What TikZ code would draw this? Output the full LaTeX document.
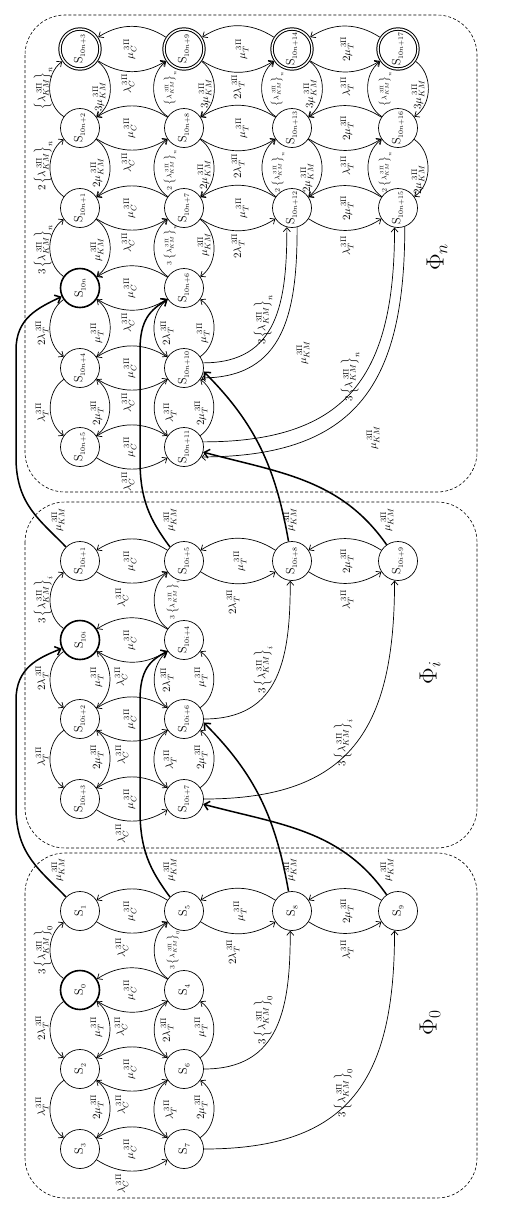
\documentclass[tikz,border=0pt]{standalone}
\usetikzlibrary{arrows.meta}
\newcommand{\stname}[1]{\rotatebox{90}{\fontsize{12}{14}\selectfont S\kern0.2pt\raisebox{-0.55ex}{\fontsize{7.5}{9}\selectfont$#1$}}}
\newcommand{\sza}[1]{#1}
\newcommand{\szb}[1]{10i\ifnum#1>0 {+}#1\fi}
\newcommand{\lkm}[2]{$#1\left\{\lambda_{KM}^{\;3\Pi}\right\}_{#2}$}
\newcommand{\mkm}[1]{$#1\mu_{KM}^{\;3\Pi}$}

\newcommand{\lowpanel}[4]{%
\begin{scope}[yshift=#4pt]
 \node[state]  (#1-1) at (80,-911)  {\stname{#2{1}}};
 \node[state]  (#1-5) at (184,-911) {\stname{#2{5}}};
 \node[state]  (#1-8) at (292,-911) {\stname{#2{8}}};
 \node[state]  (#1-9) at (398,-911) {\stname{#2{9}}};
 \node[bstate] (#1-0) at (80,-990)  {\stname{#2{0}}};
 \node[state]  (#1-4) at (184,-990) {\stname{#2{4}}};
 \node[state]  (#1-2) at (80,-1069) {\stname{#2{2}}};
 \node[state]  (#1-6) at (184,-1069){\stname{#2{6}}};
 \node[state]  (#1-3) at (80,-1149) {\stname{#2{3}}};
 \node[state]  (#1-7) at (184,-1149){\stname{#2{7}}};
 \foreach \u/\v in {5/1,1/5,4/0,0/4,6/2,2/6,7/3,3/7,8/5,5/8,9/8,8/9}
   \draw[arr] (#1-\u) to[bend right=33] (#1-\v);
 \foreach \u/\v in {0/2,2/0,2/3,3/2,4/6,6/4,6/7,7/6}
   \draw[arr] (#1-\u) to[bend right=55] (#1-\v);
 \foreach \u/\v in {0/1,4/5}
   \draw[arr] (#1-\u) to[bend left=55] (#1-\v);
 \draw[arr] (#1-6.east) to[out=0,in=-90,looseness=1.2] (#1-8.265);
 \draw[arr] (#1-7.east) to[out=0,in=-90,looseness=1.3] (#1-9.260);
 \node[lbl] (#1-l1) at (130,-911) {$\mu_{C}^{\;3\Pi}$};
 \node[lbl] (#1-l2) at (122,-948) {$\lambda_{C}^{\;3\Pi}$};
 \node[lbl] (#1-l3) at (130,-990) {$\mu_{C}^{\;3\Pi}$};
 \node[lbl] (#1-l4) at (121,-1027) {$\lambda_{C}^{\;3\Pi}$};
 \node[lbl] (#1-l5) at (130,-1069) {$\mu_{C}^{\;3\Pi}$};
 \node[lbl] (#1-l6) at (122,-1105) {$\lambda_{C}^{\;3\Pi}$};
 \node[lbl] (#1-l7) at (130,-1149) {$\mu_{C}^{\;3\Pi}$};
 \node[lbl] (#1-l8) at (122,-1184) {$\lambda_{C}^{\;3\Pi}$};
 \node[lbl] (#1-l9) at (240,-911) {$\mu_{T}^{\;3\Pi}$};
 \node[lbl] (#1-l10) at (233,-952) {$2\lambda_{T}^{\;3\Pi}$};
 \node[lbl] (#1-l11) at (347,-911) {$2\mu_{T}^{\;3\Pi}$};
 \node[lbl] (#1-l12) at (347,-950) {$\lambda_{T}^{\;3\Pi}$};
 \node[lbl] (#1-l13) at (43,-950) {\lkm{3}{#3}};
 \node[lbl] (#1-l14) at (42,-1028) {$2\lambda_{T}^{\;3\Pi}$};
 \node[lbl] (#1-l15) at (97,-1027) {$\mu_{T}^{\;3\Pi}$};
 \node[lbl] (#1-l16) at (42,-1107) {$\lambda_{T}^{\;3\Pi}$};
 \node[lbl] (#1-l17) at (97,-1107) {$2\mu_{T}^{\;3\Pi}$};
 \node[slbl] (#1-l18) at (173,-950) {\lkm{3}{#3}};
 \node[lbl] (#1-l19) at (167,-1030) {$2\lambda_{T}^{\;3\Pi}$};
 \node[lbl] (#1-l20) at (201,-1027) {$\mu_{T}^{\;3\Pi}$};
 \node[lbl] (#1-l21) at (170,-1110) {$\lambda_{T}^{\;3\Pi}$};
 \node[lbl] (#1-l22) at (201,-1107) {$2\mu_{T}^{\;3\Pi}$};
 \node[lbl] (#1-l23) at (263,-1020) {\lkm{3}{#3}};
 \node[lbl] (#1-l24) at (343,-1093) {\lkm{3}{#3}};
 \node[philbl] (#1-phi) at (430,-1023) {$\Phi_{#3}$};
\end{scope}}

\newcommand{\crossarr}[6]{%
\begin{scope}[yshift=#6pt]
 \draw[tarr] (#1-1.135) .. controls (40,-870) and (17,-855) .. (16,-810) -- (16,-700) .. controls (16,-668) and (38,-658) .. (#2.205);
 \draw[tarr] (#1-5.135) .. controls (150,-870) and (140,-850) .. (140,-810) -- (140,-700) .. controls (140,-670) and (150,-660) .. (#3.215);
 \draw[tarr] (#1-8.100) to[out=100,in=-45] (#4.-10);
 \draw[tarr] (#1-9.125) to[out=125,in=-15] (#5.-15);
 \node[lbl] (#1-x1) at (58,-870) {\mkm{}};
 \node[lbl] (#1-x2) at (170,-870) {\mkm{}};
 \node[lbl] (#1-x3) at (290,-870) {\mkm{}};
 \node[lbl] (#1-x4) at (387,-870) {\mkm{}};
\end{scope}}

\begin{document}
\begin{tikzpicture}[x=1pt,y=1pt,
 state/.style={circle, draw, line width=0.7pt, minimum size=39pt, inner sep=0pt},
 bstate/.style={state, line width=1.6pt},
 dstate/.style={state, double, double distance=1.4pt, line width=1pt, minimum size=40pt, outer sep=1.8pt},
 arr/.style={-{Straight Barb[length=4pt,width=7pt]}, line width=0.7pt},
 tarr/.style={-{Straight Barb[length=5pt,width=9pt]}, line width=1.5pt},
 lbl/.style={rotate=90, inner sep=0pt, font=\fontsize{11}{13}\selectfont},
 slbl/.style={rotate=90, inner sep=0pt, font=\fontsize{7.5}{9}\selectfont},
 philbl/.style={rotate=90, inner sep=0pt, font=\fontsize{26}{30}\selectfont},
 panel/.style={draw, dash pattern=on 3pt off 2pt, line width=0.6pt, rounded corners=40pt}]
\useasboundingbox (0,0) rectangle (508,-1208);
\fill[white] (0,0) rectangle (508,-1208);
\draw[panel] (25,-15) rectangle (477,-492);
\draw[panel] (25,-502) rectangle (477,-848);
\draw[panel] (25,-853) rectangle (477,-1198);

\lowpanel{a}{\sza}{0}{0}
\lowpanel{b}{\szb}{i}{350}

% Phi_n
\node[dstate] (n-3)  at (80,-49)  {\stname{10n{+}3}};
\node[dstate] (n-9)  at (184,-49) {\stname{10n{+}9}};
\node[dstate] (n-14) at (292,-49) {\stname{10n{+}14}};
\node[dstate] (n-17) at (398,-49) {\stname{10n{+}17}};
\node[state] (n-2)  at (80,-128)  {\stname{10n{+}2}};
\node[state] (n-8)  at (184,-128) {\stname{10n{+}8}};
\node[state] (n-13) at (292,-128) {\stname{10n{+}13}};
\node[state] (n-16) at (398,-128) {\stname{10n{+}16}};
\node[state] (n-1)  at (80,-208)  {\stname{10n{+}1}};
\node[state] (n-7)  at (184,-208) {\stname{10n{+}7}};
\node[state] (n-12) at (292,-208) {\stname{10n{+}12}};
\node[state] (n-15) at (398,-208) {\stname{10n{+}15}};
\node[bstate] (n-0) at (80,-288)  {\stname{10n}};
\node[state] (n-6)  at (184,-288) {\stname{10n{+}6}};
\node[state] (n-4)  at (80,-368)  {\stname{10n{+}4}};
\node[state] (n-10) at (184,-368) {\stname{10n{+}10}};
\node[state] (n-5)  at (80,-447)  {\stname{10n{+}5}};
\node[state] (n-11) at (184,-447) {\stname{10n{+}11}};

\foreach \u/\v in {9/3,3/9,8/2,2/8,7/1,1/7,6/0,0/6,10/4,4/10,11/5,5/11,14/9,9/14,13/8,8/13,12/7,7/12,17/14,14/17,16/13,13/16,15/12,12/15}
  \draw[arr] (n-\u) to[bend right=33] (n-\v);
\foreach \u/\v in {0/1,1/0,1/2,2/1,2/3,3/2,6/7,7/6,7/8,8/7,8/9,9/8,12/13,13/12,13/14,14/13,15/16,16/15,16/17,17/16}
  \draw[arr] (n-\u) to[bend left=55] (n-\v);
\foreach \u/\v in {0/4,4/0,4/5,5/4,6/10,10/6,10/11,11/10}
  \draw[arr] (n-\u) to[bend right=55] (n-\v);
\draw[arr] (n-10.15) to[out=0,in=-90,looseness=1.2] (n-12.255);
\draw[arr] (n-12.285) to[out=-90,in=0,looseness=1.2] (n-10.-30);
\draw[arr] (n-11.15) to[out=0,in=-90,looseness=1.3] (n-15.260);
\draw[arr] (n-15.290) to[out=-90,in=0,looseness=1.3] (n-11.-30);

\foreach \r [count=\k] in {49,128,208,288,368,447}{
  \node[lbl] (n-mc\k) at (130,-\r) {$\mu_{C}^{\;3\Pi}$};
  \node[lbl] (n-lc\k) at (128,-\r-35) {$\lambda_{C}^{\;3\Pi}$};
}
\foreach \r [count=\k] in {49,128,208}{
  \node[lbl] (n-mt\k) at (242,-\r) {$\mu_{T}^{\;3\Pi}$};
  \node[lbl] (n-lt\k) at (238,-\r-38) {$2\lambda_{T}^{\;3\Pi}$};
  \node[lbl] (n-mtt\k) at (347,-\r) {$2\mu_{T}^{\;3\Pi}$};
  \node[lbl] (n-ltt\k) at (347,-\r-38) {$\lambda_{T}^{\;3\Pi}$};
}
\node[lbl] (n-a1) at (43,-88) {\lkm{}{n}};
\node[lbl] (n-a2) at (99,-97) {\mkm{3}};
\node[lbl] (n-a3) at (43,-166) {\lkm{2}{n}};
\node[lbl] (n-a4) at (97,-173) {\mkm{2}};
\node[lbl] (n-a5) at (43,-250) {\lkm{3}{n}};
\node[lbl] (n-a6) at (97,-250) {\mkm{}};
\node[lbl] (n-a7) at (42,-333) {$2\lambda_{T}^{\;3\Pi}$};
\node[lbl] (n-a8) at (97,-333) {$\mu_{T}^{\;3\Pi}$};
\node[lbl] (n-a9) at (42,-413) {$\lambda_{T}^{\;3\Pi}$};
\node[lbl] (n-a10) at (97,-413) {$2\mu_{T}^{\;3\Pi}$};
\node[slbl] (n-b1) at (170,-88) {\lkm{}{n}};
\node[lbl] (n-b2) at (205,-94) {\mkm{3}};
\node[slbl] (n-b3) at (170,-170) {\lkm{2}{n}};
\node[lbl] (n-b4) at (204,-175) {\mkm{2}};
\node[slbl] (n-b5) at (170,-245) {\lkm{3}{n}};
\node[lbl] (n-b6) at (204,-245) {\mkm{}};
\node[lbl] (n-b7) at (167,-333) {$2\lambda_{T}^{\;3\Pi}$};
\node[lbl] (n-b8) at (203,-333) {$\mu_{T}^{\;3\Pi}$};
\node[lbl] (n-b9) at (170,-413) {$\lambda_{T}^{\;3\Pi}$};
\node[lbl] (n-b10) at (201,-413) {$2\mu_{T}^{\;3\Pi}$};
\node[slbl] (n-c1) at (277,-89) {\lkm{}{n}};
\node[lbl] (n-c2) at (310,-94) {\mkm{3}};
\node[slbl] (n-c3) at (278,-172) {\lkm{2}{n}};
\node[lbl] (n-c4) at (307,-178) {\mkm{2}};
\node[slbl] (n-d1) at (385,-89) {\lkm{}{n}};
\node[lbl] (n-d2) at (418,-95) {\mkm{3}};
\node[slbl] (n-d3) at (385,-172) {\lkm{2}{n}};
\node[lbl] (n-d4) at (418,-180) {\mkm{2}};
\node[lbl] (n-e1) at (263,-320) {\lkm{3}{n}};
\node[lbl] (n-e2) at (303,-353) {\mkm{}};
\node[lbl] (n-e3) at (350,-377) {\lkm{3}{n}};
\node[lbl] (n-e4) at (373,-438) {\mkm{}};
\node[philbl] (n-phi) at (437,-257) {$\Phi_{n}$};

\crossarr{a}{b-0}{b-4}{b-6}{b-7}{0}
\crossarr{b}{n-0}{n-6}{n-10}{n-11}{350}
\end{tikzpicture}
\end{document}
